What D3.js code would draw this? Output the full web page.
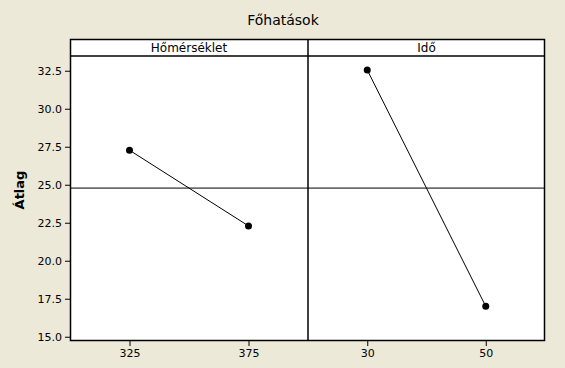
<!DOCTYPE html>
<html><head><meta charset="utf-8">
<script src="https://cdn.jsdelivr.net/npm/d3@7"></script>
<style>
html,body{margin:0;padding:0;background:#ECE9D8;}
svg{display:block;}
text{font-family:Tahoma,"DejaVu Sans",Verdana,sans-serif;}
</style></head>
<body>
<svg id="c" width="565" height="368"></svg>
<script>
const title = "Főhatások";
const yLabel = "Átlag";
const panels = ["Hőmérséklet", "Idő"];
const levels1 = ["325", "375"];
const means1 = [27.27, 22.29];
const levels2 = ["30", "50"];
const means2 = [32.55, 17.0];
const yTicks = [15.0, 17.5, 20.0, 22.5, 25.0, 27.5, 30.0, 32.5];
const grandMean = 24.78;

const svg = d3.select("#c");
const L = 70, R = 545, T = 39, S = 56, B = 341, MID = 308;
const y = d3.scaleLinear().domain([14.72, 33.47]).range([B, S]);

svg.append("rect").attr("x", L).attr("y", T).attr("width", R - L).attr("height", B - T).attr("fill", "#fff");

svg.append("text").attr("x", 283).attr("y", 25).attr("text-anchor", "middle")
  .attr("font-size", 14).attr("fill", "#000").text(title);

svg.append("text").attr("transform", "translate(24,190) rotate(-90)").attr("text-anchor", "middle")
  .attr("font-size", 13).attr("font-weight", "bold").attr("fill", "#000").text(yLabel);

// y axis
const ya = svg.append("g").attr("transform", `translate(${L},0)`)
  .call(d3.axisLeft(y).tickValues(yTicks).tickFormat(d3.format(".1f")).tickSize(5).tickPadding(3));
ya.select(".domain").remove();
ya.selectAll("line").attr("stroke", "#000");
ya.selectAll("text").attr("font-size", 11).attr("fill", "#000").style("font-family", 'Tahoma,"DejaVu Sans",sans-serif');

const data = [
  {name: panels[0], levels: levels1, means: means1, x0: L, x1: MID},
  {name: panels[1], levels: levels2, means: means2, x0: MID, x1: R}
];

data.forEach(p => {
  const x = d3.scalePoint().domain(p.levels).range([p.x0, p.x1]).padding(0.5);
  const xa = svg.append("g").attr("transform", `translate(0,${B})`)
    .call(d3.axisBottom(x).tickSize(5).tickPadding(3));
  xa.select(".domain").remove();
  xa.selectAll("line").attr("stroke", "#000");
  xa.selectAll("text").attr("font-size", 11).attr("fill", "#000").style("font-family", 'Tahoma,"DejaVu Sans",sans-serif');

  svg.append("text").attr("x", (p.x0 + p.x1) / 2).attr("y", 52).attr("text-anchor", "middle")
    .attr("font-size", 12).attr("fill", "#000").text(p.name);

  const pts = p.levels.map((l, i) => [x(l), y(p.means[i])]);
  svg.append("path").attr("d", d3.line()(pts)).attr("fill", "none").attr("stroke", "#000").attr("stroke-width", 1);
  svg.selectAll(null).data(pts).enter().append("circle")
    .attr("cx", d => d[0]).attr("cy", d => d[1]).attr("r", 3.5).attr("fill", "#000");
});

// grand mean line
svg.append("line").attr("x1", L).attr("x2", R).attr("y1", y(grandMean)).attr("y2", y(grandMean))
  .attr("stroke", "#000").attr("stroke-width", 1);

// frame, strip, divider
svg.append("rect").attr("x", L + 0.5).attr("y", T + 0.5).attr("width", R - L - 1).attr("height", B - T - 1)
  .attr("fill", "none").attr("stroke", "#000").attr("stroke-width", 1.5);
svg.append("line").attr("x1", L).attr("x2", R).attr("y1", S).attr("y2", S).attr("stroke", "#000").attr("stroke-width", 1.5);
svg.append("line").attr("x1", MID).attr("x2", MID).attr("y1", T).attr("y2", B).attr("stroke", "#000").attr("stroke-width", 1.5);
</script>
</body></html>
